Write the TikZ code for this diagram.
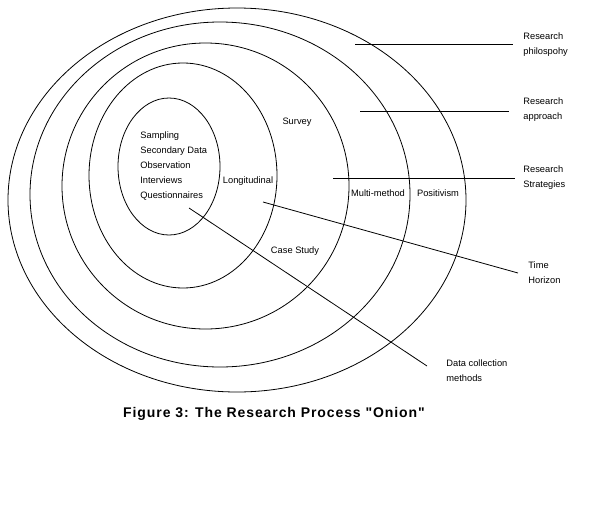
\documentclass[tikz,border=0pt]{standalone}
\usepackage{fontspec}
\setmainfont{Liberation Sans}
\newfontfamily\capfont[LetterSpace=6.5]{Liberation Sans}
\newcommand{\lbl}{\fontsize{9.3}{15}\selectfont}
\newcommand{\cpt}{\capfont\fontsize{14}{16}\selectfont\bfseries}

\begin{document}
\begin{tikzpicture}[x=1pt,y=-1pt,line width=0.8pt,
   every node/.style={inner sep=0pt,font=\lbl}]
   \useasboundingbox (0,0) rectangle (609,522);
   % the layers of the onion
   \draw (237,200) ellipse [x radius=229, y radius=192];
   \draw (220,194.5) ellipse [x radius=190, y radius=172.5];
   \draw (205.5,186) ellipse [x radius=143.5, y radius=143];
   \draw (183,175.5) ellipse [x radius=94, y radius=112.5];
   \draw (169,166.5) ellipse [x radius=51, y radius=68.5];
   % texts inside the layers
   \node (methods) [anchor=west,align=left] at (140,166.5)
      {Sampling\\Secondary Data\\Observation\\Interviews\\Questionnaires};
   \node (survey) at (297,122) {Survey};
   \node (longit) at (248,181) {Longitudinal};
   \node (casest) at (295,251) {Case Study};
   \node (multi)  at (378,193) {Multi-method};
   \node (posit)  at (438,193) {Positivism};
   % labels on the right
   \node (philo) [anchor=west,align=left] at (523,44.5) {Research\\philospohy};
   \node (appro) [anchor=west,align=left] at (523,110)  {Research\\approach};
   \node (strat) [anchor=west,align=left] at (523,178)  {Research\\Strategies};
   \node (horiz) [anchor=west,align=left] at (528,272.5) {Time\\Horizon};
   \node (datac) [anchor=west,align=left] at (446,370.5) {Data collection\\methods};
   % pointer lines
   \coordinate (philo-a) at (355,44);  \coordinate (philo-b) at (513,44);
   \coordinate (appro-a) at (360,111); \coordinate (appro-b) at (509,111);
   \coordinate (strat-a) at (333,178); \coordinate (strat-b) at (515,178);
   \coordinate (horiz-a) at (263,202); \coordinate (horiz-b) at (518,273);
   \coordinate (datac-a) at (189,208); \coordinate (datac-b) at (427,366);
   \draw (philo-a) -- (philo-b);
   \draw (appro-a) -- (appro-b);
   \draw (strat-a) -- (strat-b);
   \draw (horiz-a) -- (horiz-b);
   \draw (datac-a) -- (datac-b);
   % caption
   \node (caption) [font=\cpt] at (274,414) {Figure 3: The Research Process "Onion"};
\end{tikzpicture}
\end{document}
